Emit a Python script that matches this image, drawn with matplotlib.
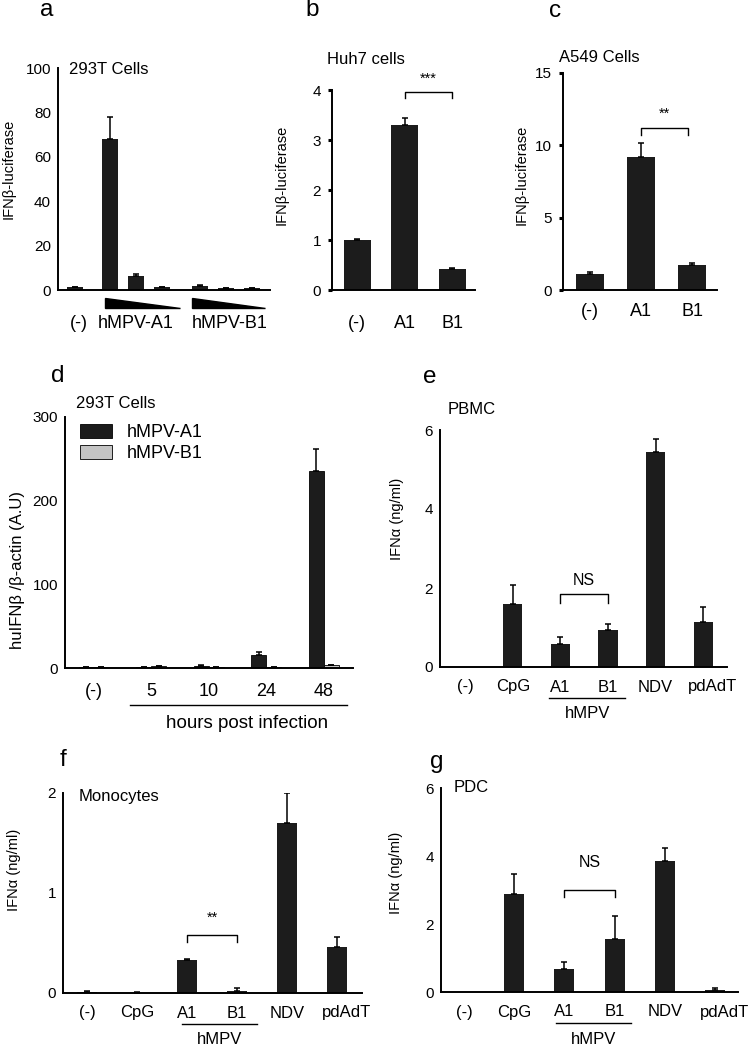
import numpy as np
import matplotlib
matplotlib.use("Agg")
import matplotlib.pyplot as plt
from matplotlib.transforms import offset_copy

plt.rcParams['font.family'] = ['Liberation Sans', 'DejaVu Sans']

# ---- data -------------------------------------------------------------
a_vals = [1.2, 68, 6.3, 1.2, 1.8, 0.9, 0.9]
a_err = [0.3, 10, 1.0, 0.2, 0.3, 0.2, 0.2]

b_labels = ["(-)", "A1", "B1"]
b_vals = [1.0, 3.3, 0.43]
b_err = [0.02, 0.14, 0.01]

c_labels = ["(-)", "A1", "B1"]
c_vals = [1.1, 9.2, 1.75]
c_err = [0.12, 0.95, 0.12]

d_labels = ["(-)", "5", "10", "24", "48"]
d_a1 = [1.0, 1.0, 2.0, 16, 236]
d_a1_err = [0.5, 0.5, 1.5, 3.5, 26]
d_b1 = [1.0, 2.0, 1.0, 1.0, 3.0]
d_b1_err = [0.5, 0.8, 0.5, 0.5, 1.0]

stim_labels = ["(-)", "CpG", "A1", "B1", "NDV", "pdAdT"]
e_vals = [0, 1.6, 0.59, 0.93, 5.45, 1.13]
e_err = [0, 0.48, 0.17, 0.15, 0.33, 0.38]
f_vals = [0.01, 0.005, 0.33, 0.02, 1.70, 0.46]
f_err = [0.015, 0.005, 0.01, 0.035, 0.30, 0.10]
g_vals = [0, 2.87, 0.69, 1.55, 3.86, 0.07]
g_err = [0, 0.6, 0.2, 0.7, 0.37, 0.06]

BAR = "#1c1c1c"
W, H = 754, 1049
fig = plt.figure(figsize=(W / 100, H / 100), dpi=100)


def box(x0, x1, ytop, ybot):
    return fig.add_axes([x0 / W, 1 - ybot / H, (x1 - x0) / W, (ybot - ytop) / H])


def style(ax, ticks=False):
    for s in ["top", "right"]:
        ax.spines[s].set_visible(False)
    for s in ["left", "bottom"]:
        ax.spines[s].set_linewidth(1.4)
    ax.tick_params(axis="x", length=0, labelbottom=False)
    if ticks:
        ax.tick_params(axis="y", length=3, width=2.2, pad=5, labelsize=11)
    else:
        ax.tick_params(axis="y", length=0, pad=5, labelsize=11)


def under(ax, x, dy, text, size=12, **kw):
    tr = offset_copy(ax.get_xaxis_transform(), fig=fig, y=-dy, units="dots")
    ax.text(x, 0, text, transform=tr, ha="center", va="center", fontsize=size, **kw)


def underline(ax, x0, x1, dy):
    tr = offset_copy(ax.get_xaxis_transform(), fig=fig, y=-dy, units="dots")
    ax.plot([x0, x1], [0, 0], color="black", lw=1.0, transform=tr, clip_on=False)


def errs(ax, x, v, e, cap=2.5):
    x = np.asarray(x, float)
    v = np.asarray(v, float)
    e = np.asarray(e, float)
    m = e > 0
    ax.errorbar(x[m], v[m], yerr=[np.zeros(m.sum()), e[m]], fmt="none",
                ecolor="black", elinewidth=1.1, capsize=cap, capthick=1.1)


def bracket(ax, x0, x1, ytop, yleg, label, ylab, size=10.5):
    ax.plot([x0, x0, x1, x1], [yleg, ytop, ytop, yleg], color="black", lw=1.0)
    ax.text((x0 + x1) / 2, ylab, label, ha="center", va="center", fontsize=size)


def ylab(x, y, text, size=10.5):
    fig.text(x / W, 1 - y / H, text, rotation=90, ha="center", va="center", fontsize=size)


def letter(x, y, t):
    fig.text(x / W, 1 - y / H, t, ha="left", va="center", fontsize=17.5)


def title(x, y, t):
    fig.text(x / W, 1 - y / H, t, ha="left", va="center", fontsize=12)


# ---- panel a ----------------------------------------------------------
ax = box(58, 270, 68, 290)
style(ax)
a_x = [0, 1.35, 2.35, 3.35, 4.8, 5.8, 6.8]
ax.bar(a_x, a_vals, width=0.62, color=BAR)
errs(ax, a_x, a_vals, a_err)
ax.set_xlim(-0.65, 7.5)
ax.set_ylim(0, 100)
ax.set_yticks([0, 20, 40, 60, 80, 100])
for x0, x1 in [(1.15, 4.05), (4.5, 7.3)]:
    ax.fill([x0, x0, x1], [-0.036, -0.081, -0.081], color="black",
            transform=ax.get_xaxis_transform(), clip_on=False)
under(ax, 0.15, 33, "(-)", 13)
under(ax, 2.35, 33, "hMPV-A1", 13)
under(ax, 5.95, 33, "hMPV-B1", 13)
letter(40, 10, "a")
title(69, 70, "293T Cells")
ylab(9, 169, "IFNβ-luciferase")

# ---- panel b ----------------------------------------------------------
ax = box(332, 475, 90, 290)
style(ax, ticks=True)
bx = np.arange(len(b_vals))
ax.bar(bx, b_vals, width=0.57, color=BAR)
errs(ax, bx, b_vals, b_err)
ax.set_xlim(-0.53, 2.48)
ax.set_ylim(0, 4)
ax.set_yticks([0, 1, 2, 3, 4])
for x, t in zip(bx, b_labels):
    under(ax, x, 33, t, 13)
bracket(ax, 1, 2, 3.96, 3.84, "***", 4.22)
letter(305, 10, "b")
title(327, 59, "Huh7 cells")
ylab(282, 175, "IFNβ-luciferase")

# ---- panel c ----------------------------------------------------------
ax = box(563, 717, 73, 290)
style(ax, ticks=True)
cx = np.arange(len(c_vals))
ax.bar(cx, c_vals, width=0.55, color=BAR)
errs(ax, cx, c_vals, c_err)
ax.set_xlim(-0.53, 2.49)
ax.set_ylim(0, 15)
ax.set_yticks([0, 5, 10, 15])
for x, t in zip(cx, c_labels):
    under(ax, x, 22, t, 13)
bracket(ax, 1, 1.92, 11.2, 10.7, "**", 12.2)
letter(549, 11, "c")
title(559, 57, "A549 Cells")
ylab(522, 175, "IFNβ-luciferase")

# ---- panel d ----------------------------------------------------------
ax = box(65, 353, 417, 668)
style(ax)
dx = np.arange(len(d_labels))
ax.bar(dx - 0.13, d_a1, width=0.26, color=BAR, edgecolor="black", lw=0.6,
       label="hMPV-A1")
ax.bar(dx + 0.13, d_b1, width=0.26, color="#c4c4c4", edgecolor="black", lw=0.6,
       label="hMPV-B1")
errs(ax, dx - 0.13, d_a1, d_a1_err)
errs(ax, dx + 0.13, d_b1, d_b1_err)
ax.set_xlim(-0.5, 4.51)
ax.set_ylim(0, 300)
ax.set_yticks([0, 100, 200, 300])
for x, t in zip(dx, d_labels):
    under(ax, x, 24, t, 13)
underline(ax, 0.63, 4.41, 37)
under(ax, 2.67, 55, "hours post infection", 13.5)
ax.legend(loc="upper left", bbox_to_anchor=(80 / W, 1 - 424 / H),
          bbox_transform=fig.transFigure, frameon=False, fontsize=13,
          handlelength=1.78, handleheight=0.83, handletextpad=0.8,
          labelspacing=0.2, borderpad=0, borderaxespad=0)
letter(51, 376, "d")
title(76, 404, "293T Cells")
ylab(18, 570, "huIFNβ /β-actin (A.U)", 12)

# ---- panels e, f, g ---------------------------------------------------
panels = [
    ("e", e_vals, e_err, (440, 727, 430, 667), (-0.53, 5.5), 6, [0, 2, 4, 6],
     (1.84, 1.61, "NS", 2.2), (1.76, 3.36), (423, 377), (448, 409, "PBMC"),
     (397, 519)),
    ("f", f_vals, f_err, (63, 362, 793, 993), (-0.48, 5.5), 2, [0, 1, 2],
     (0.58, 0.51, "**", 0.75), (1.9, 3.4), (60, 760), (79, 797, "Monocytes"),
     (14, 870)),
    ("g", g_vals, g_err, (441, 738, 788, 992), (-0.46, 5.46), 6, [0, 2, 4, 6],
     (3.0, 2.8, "NS", 3.8), (1.83, 3.33), (430, 762), (454, 788, "PDC"),
     (396, 873)),
]
for (lt, vals, err, bb, xl, ymax, yt, br, ul, lpos, tpos, ypos) in panels:
    ax = box(*bb)
    style(ax)
    px = np.arange(len(stim_labels))
    ax.bar(px, vals, width=0.4, color=BAR)
    errs(ax, px, vals, err)
    ax.set_xlim(*xl)
    ax.set_ylim(0, ymax)
    ax.set_yticks(yt)
    for x, t in zip(px, stim_labels):
        xo = x + 0.2 if t == "pdAdT" else x
        under(ax, xo, 20, t, 12)
    underline(ax, ul[0], ul[1], 31)
    under(ax, (ul[0] + ul[1]) / 2, 47, "hMPV", 12)
    bracket(ax, 2, 3, br[0], br[1], br[2], br[3], 11.5 if br[2] == "NS" else 10.5)
    letter(lpos[0], lpos[1], lt)
    title(tpos[0], tpos[1], tpos[2])
    ylab(ypos[0], ypos[1], "IFNα (ng/ml)")

fig.savefig("out.png", dpi=100)
